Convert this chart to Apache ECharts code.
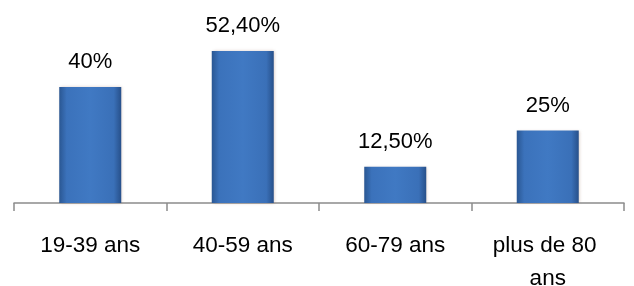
<!DOCTYPE html>
<html>
<head>
<meta charset="utf-8">
<script src="https://cdn.jsdelivr.net/npm/echarts@6/dist/echarts.min.js"></script>
<style>
  html, body { margin: 0; padding: 0; background: #fff; }
  #chart { width: 634px; height: 286px; }
</style>
</head>
<body>
<div id="chart"></div>
<script>
  var categories = ["19-39 ans", "40-59 ans", "60-79 ans", "plus de 80 ans"];
  var values = [40, 52.4, 12.5, 25];
  var labels = ["40%", "52,40%", "12,50%", "25%"];

  var myChart = echarts.init(document.getElementById("chart"));

  var option = {
    animation: false,
    grid: {
      left: 14,
      right: 10,
      top: 29,
      bottom: 83,
      outerBoundsMode: "none",
      containLabel: false
    },
    xAxis: {
      type: "category",
      data: categories,
      axisLine: { lineStyle: { color: "#8c8c8c", width: 1.5 } },
      axisTick: { show: true, length: 8, lineStyle: { color: "#8c8c8c", width: 1.5 } },
      axisLabel: {
        interval: 0,
        color: "#000",
        fontFamily: "Liberation Sans",
        fontSize: 22.5,
        lineHeight: 33,
        margin: 26,
        width: 140,
        overflow: "break"
      }
    },
    yAxis: {
      type: "value",
      min: 0,
      max: 60,
      show: false
    },
    series: [{
      type: "bar",
      data: values,
      barWidth: 62,
      itemStyle: {
        color: {
          type: "linear", x: 0, y: 0, x2: 1, y2: 0,
          colorStops: [
            { offset: 0, color: "#2a5793" },
            { offset: 0.12, color: "#3b72bb" },
            { offset: 0.5, color: "#4079c3" },
            { offset: 0.88, color: "#3a70b8" },
            { offset: 1, color: "#27508a" }
          ]
        },
        shadowColor: "rgba(150,110,90,0.35)",
        shadowBlur: 3,
        shadowOffsetX: 1
      },
      label: {
        show: true,
        position: "top",
        distance: 14,
        color: "#000",
        fontFamily: "Liberation Sans",
        fontSize: 22,
        formatter: function (p) { return labels[p.dataIndex]; }
      }
    }]
  };

  myChart.setOption(option);
</script>
</body>
</html>
